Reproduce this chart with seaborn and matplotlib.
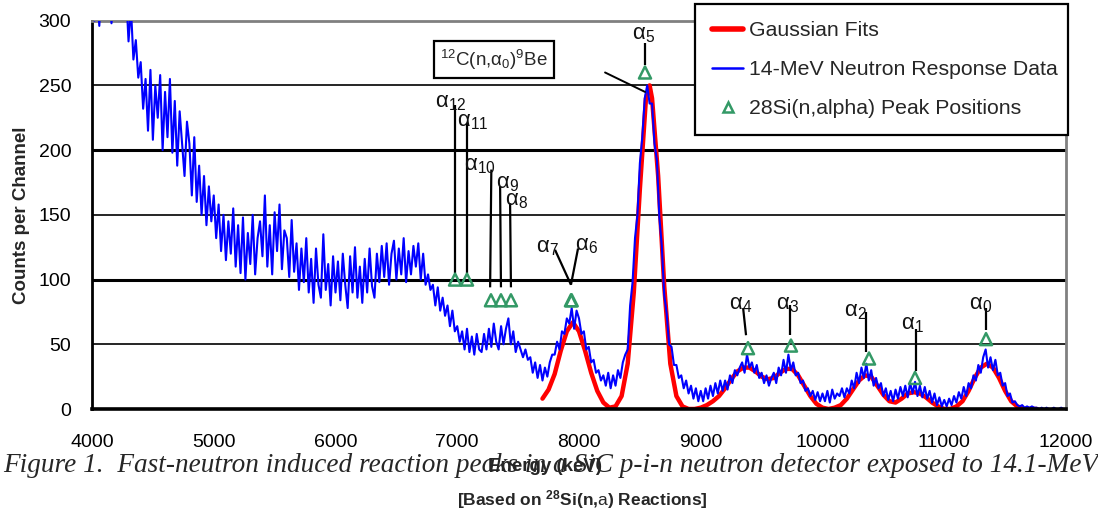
import numpy as np
import pandas as pd
import matplotlib
matplotlib.use("Agg")
import matplotlib.pyplot as plt
from matplotlib.lines import Line2D
import seaborn as sns

# ---------------- data ----------------
# measured spectrum, 20 keV channels from 4000 to 12000 keV
energy_start = 4000
energy_step = 20
counts = [
    318, 300, 325, 296, 330, 312, 303, 322, 298, 315,   # 4000
    335, 318, 340, 305, 322, 284, 310, 270, 285, 256,   # 4200
    268, 232, 255, 215, 262, 208, 250, 225, 258, 200,   # 4400
    245, 210, 255, 198, 238, 188, 230, 205, 180, 222,   # 4600
    205, 165, 210, 160, 188, 150, 180, 142, 172, 145,   # 4800
    165, 132, 158, 122, 150, 115, 145, 120, 155, 110,   # 5000
    142, 105, 148, 100, 136, 112, 150, 104, 132, 145,   # 5200
    118, 165, 110, 142, 104, 152, 122, 158, 108, 138,   # 5400
    132, 102, 146, 106, 128, 92, 124, 98, 132, 90,      # 5600
    116, 82, 124, 96, 86, 135, 92, 112, 80, 118,        # 5800
    90, 114, 84, 120, 96, 78, 118, 90, 125, 86,         # 6000
    110, 82, 116, 90, 124, 95, 86, 120, 98, 126,        # 6200
    102, 128, 96, 120, 130, 100, 124, 104, 132, 98,     # 6400
    122, 104, 126, 110, 128, 100, 120, 96, 104, 92,     # 6600
    96, 80, 94, 76, 86, 72, 80, 64, 76, 60,             # 6800
    64, 52, 60, 46, 62, 44, 56, 42, 58, 46,             # 7000
    44, 58, 46, 62, 48, 66, 52, 46, 64, 50,             # 7200
    62, 70, 50, 60, 44, 52, 46, 40, 46, 38,             # 7400
    40, 28, 36, 24, 34, 22, 32, 25, 36, 42,             # 7600
    42, 52, 46, 60, 58, 70, 66, 78, 62, 76,             # 7800
    70, 58, 60, 46, 48, 36, 38, 28, 30, 22,             # 8000
    26, 18, 28, 16, 26, 18, 30, 24, 36, 42,             # 8200
    46, 80, 98, 132, 150, 190, 210, 240, 250, 236,      # 8400
    236, 205, 192, 148, 126, 88, 74, 50, 48, 34,        # 8600
    34, 24, 26, 16, 22, 12, 18, 8, 16, 6,               # 8800
    14, 6, 16, 8, 18, 10, 20, 12, 22, 14,               # 9000
    22, 15, 26, 20, 30, 26, 32, 36, 28, 42,             # 9200
    32, 36, 28, 34, 24, 28, 20, 26, 18, 24,             # 9400
    28, 20, 32, 26, 38, 28, 42, 30, 36, 26,             # 9600
    28, 20, 22, 14, 16, 10, 14, 7, 13, 6,               # 9800
    12, 6, 14, 5, 15, 8, 12, 10, 16, 9,                 # 10000
    16, 12, 22, 16, 28, 20, 32, 24, 35, 22,             # 10200
    30, 18, 24, 16, 20, 10, 16, 7, 14, 6,               # 10400
    15, 8, 17, 10, 18, 9, 20, 12, 21, 10,               # 10600
    18, 9, 17, 8, 14, 5, 12, 3, 9, 2,                   # 10800
    7, 2, 8, 3, 10, 5, 13, 8, 17, 10,                   # 11000
    20, 16, 26, 22, 34, 28, 40, 46, 32, 40,             # 11200
    30, 38, 26, 28, 18, 20, 10, 12, 5, 6,               # 11400
    3, 2, 3, 1, 2, 1, 2, 1, 1, 0,                       # 11600
    1, 0, 1, 0, 0, 1, 0, 0, 1, 0,                       # 11800
    0,
]
energy = [energy_start + i * energy_step for i in range(len(counts))]

# Gaussian fit curve
fit_energy = [7700, 7750, 7800, 7850, 7900, 7950, 8000, 8050, 8100, 8150,
              8200, 8250, 8300, 8350, 8400, 8450, 8500, 8550, 8580, 8600,
              8650, 8700, 8750, 8800, 8850, 8900, 8950, 9000, 9050, 9100,
              9150, 9200, 9250, 9300, 9350, 9400, 9450, 9500, 9550, 9600,
              9650, 9700, 9750, 9800, 9850, 9900, 9950, 10000, 10050, 10100,
              10150, 10200, 10250, 10300, 10350, 10400, 10450, 10500, 10550, 10600,
              10650, 10700, 10750, 10800, 10850, 10900, 10950, 11000, 11050, 11100,
              11150, 11200, 11250, 11300, 11350, 11400, 11450, 11500, 11550, 11600,
              11650, 11700, 11760]
fit_counts = [8, 15, 27, 45, 60, 67, 60, 45, 28, 14,
              5, 1, 2, 10, 35, 90, 170, 240, 250, 240,
              180, 95, 35, 10, 2, 0, 0, 1, 3, 6,
              10, 16, 23, 29, 32, 32, 29, 25, 23, 24,
              28, 31, 31, 26, 18, 10, 4, 1, 0, 1,
              3, 8, 15, 22, 26, 25, 18, 11, 6, 5,
              8, 12, 13, 12, 9, 5, 2, 0, 0, 2,
              6, 14, 24, 32, 35, 32, 24, 14, 6, 2,
              0, 0, 0]

# 28Si(n,alpha) peak positions
peak_names = ["12", "11", "10", "9", "8", "7", "6", "5", "4", "3", "2", "1", "0"]
peak_energy = [6982, 7080, 7277, 7359, 7441, 7934, 7940, 8542, 9388, 9741, 10382, 10760, 11343]
peak_counts = [100, 100, 84, 84, 84, 84, 84, 260, 47, 49, 39, 24, 54]

# annotation layout (label centre, leader line start/end) in data units
label_pos = {
    "12": (6945, 237), "11": (7129, 222), "10": (7187, 188), "9": (7409, 174),
    "8": (7483, 161), "7": (7737, 125), "6": (8060, 126), "5": (8526, 289),
    "4": (9331, 81), "3": (9709, 81), "2": (10267, 75), "1": (10735, 65), "0": (11302, 81),
}
leader = {
    "12": ((6982, 105), (6982, 235)), "11": ((7080, 105), (7080, 221)),
    "10": ((7270, 94), (7280, 185)), "9": ((7359, 94), (7352, 172)),
    "8": ((7441, 94), (7434, 159)), "7": ((7934, 96), (7803, 123)),
    "6": ((7934, 96), (7992, 124)), "5": ((8542, 266), (8542, 283)),
    "4": ((9372, 57), (9348, 78)), "3": ((9733, 57), (9733, 80)),
    "2": ((10357, 44), (10357, 75)), "1": ((10768, 29), (10768, 62)),
    "0": ((11343, 61), (11343, 78)),
}
carbon_label = r"$^{12}$C(n,α$_0$)$^9$Be"
carbon_pos = (7302, 270)
carbon_leader = ((8214, 260), (8542, 245))

x_ticks = [4000, 5000, 6000, 7000, 8000, 9000, 10000, 11000, 12000]
y_ticks = [0, 50, 100, 150, 200, 250, 300]

# ---------------- style ----------------
sns.set_style("white")
plt.rcParams["font.family"] = ["Liberation Sans", "DejaVu Sans"]
plt.rcParams["mathtext.fontset"] = "custom"
plt.rcParams["mathtext.rm"] = "Liberation Sans"
plt.rcParams["mathtext.it"] = "Liberation Sans"
plt.rcParams["mathtext.bf"] = "Liberation Sans:bold"

W, H = 1098, 515
fig = plt.figure(figsize=(W / 100, H / 100), dpi=100)
ax = fig.add_axes([92 / W, 1 - 409 / H, (1066 - 92) / W, (409 - 20.7) / H])

spec = pd.DataFrame({"energy": energy, "counts": counts})
fit = pd.DataFrame({"energy": fit_energy, "counts": fit_counts})
peaks = pd.DataFrame({"energy": peak_energy, "counts": peak_counts})

RED = "#ff0000"
BLUE = "#0000ff"
GREEN = "#339966"

sns.lineplot(data=fit, x="energy", y="counts", ax=ax, color=RED, lw=3.2,
             sort=False, zorder=3, legend=False)
sns.lineplot(data=spec, x="energy", y="counts", ax=ax, color=BLUE, lw=1.5,
             sort=False, zorder=4, legend=False)
sns.scatterplot(data=peaks, x="energy", y="counts", ax=ax, marker="^", s=75,
                facecolor="none", edgecolor=GREEN, linewidth=1.8, zorder=6, legend=False)

ax.set_xlim(4000, 12000)
ax.set_ylim(0, 300)
ax.set_xticks(x_ticks)
ax.set_yticks(y_ticks)
ax.tick_params(axis="both", direction="out", length=6, width=1.5, colors="black",
               labelsize=14)
ax.tick_params(axis="y", pad=9)
ax.tick_params(axis="x", pad=12)

# horizontal gridlines
for v in y_ticks[1:-1]:
    ax.axhline(v, color="black", lw=2.2 if v in (100, 200) else 1.2, zorder=1)

for side in ("top", "right"):
    ax.spines[side].set_color("#808080")
    ax.spines[side].set_linewidth(2)
ax.spines["left"].set_color("black")
ax.spines["left"].set_linewidth(2)
ax.spines["bottom"].set_color("black")
ax.spines["bottom"].set_linewidth(2.6)
ax.spines["bottom"].set_zorder(5)

ax.set_xlabel("Energy (keV)", fontsize=13.5, fontweight="bold")
ax.set_ylabel("Counts per Channel", fontsize=13.5, fontweight="bold")
ax.xaxis.set_label_coords((545 - 92) / 974, (409 - 458) / 388)
ax.yaxis.set_label_coords((30 - 92) / 974, (409 - 215) / 388)

# peak annotations
for name in peak_names:
    (x0, y0), (x1, y1) = leader[name]
    ax.plot([x0, x1], [y0, y1], color="black", lw=1.6, zorder=5, solid_capstyle="butt")
    lx, ly = label_pos[name]
    ax.text(lx, ly, "α$_{%s}$" % name, fontsize=16, ha="center", va="center",
            color="#111111", zorder=7)

ax.text(carbon_pos[0], carbon_pos[1], carbon_label, fontsize=13.5, ha="center",
        va="center", zorder=7,
        bbox=dict(boxstyle="square,pad=0.35", fc="white", ec="black", lw=1.6))
(cx0, cy0), (cx1, cy1) = carbon_leader
ax.plot([cx0, cx1], [cy0, cy1], color="black", lw=1.4, zorder=5)

# legend
handles = [
    Line2D([], [], color=RED, lw=4),
    Line2D([], [], color=BLUE, lw=1.8),
    Line2D([], [], ls="none", marker="^", markersize=7, markerfacecolor="none",
           markeredgecolor=GREEN, markeredgewidth=1.8),
]
labels = ["Gaussian Fits", "14-MeV Neutron Response Data", "28Si(n,alpha) Peak Positions"]
leg = ax.legend(handles, labels, loc="upper left", mode="expand",
                bbox_to_anchor=(695 / W, 1 - 5 / H, (1068 - 695) / W, 0.001),
                bbox_transform=fig.transFigure, fontsize=15.3, frameon=True,
                fancybox=False, framealpha=1, edgecolor="black",
                borderpad=0.78, labelspacing=0.95, handlelength=1.5,
                handletextpad=0.25, borderaxespad=0)
leg.get_frame().set_linewidth(1.6)
leg.set_zorder(10)

# caption
cap = fig.text(551 / W, 1 - 466 / H,
               "Figure 1.  Fast-neutron induced reaction peaks in a SiC p-i-n neutron detector exposed to 14.1-MeV",
               family="Liberation Serif", style="italic", fontsize=16, ha="center", va="center")
fig.canvas.draw()
w = cap.get_window_extent().width
cap.set_fontsize(16 * 1092 / w)

fig.text(582 / W, 1 - 500 / H,
         r"[Based on $^{\mathbf{28}}$Si(n,$\mathrm{a}$) Reactions]",
         fontsize=12.5, fontweight="bold", ha="center", va="center")

fig.savefig("out.png", dpi=100)
